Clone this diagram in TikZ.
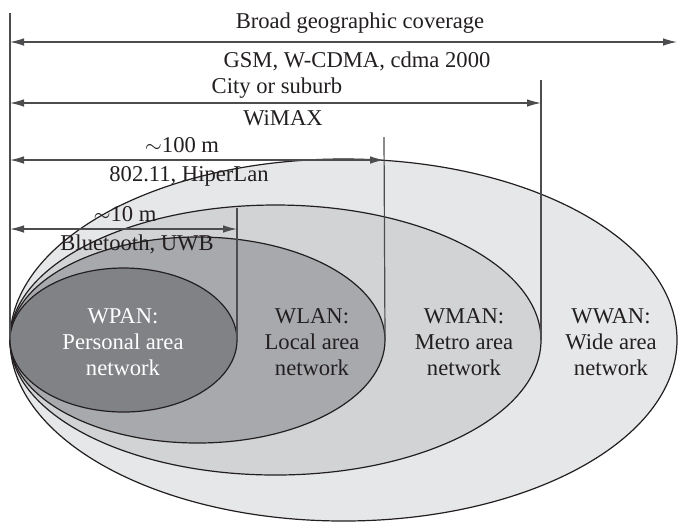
\documentclass[tikz,border=0pt]{standalone}
\usepackage{fontspec}
\setmainfont{Liberation Serif}
\usetikzlibrary{arrows.meta,shapes.geometric,positioning}
\definecolor{PanFill}{HTML}{808285}
\definecolor{LanFill}{HTML}{A7A9AC}
\definecolor{ManFill}{HTML}{D1D3D4}
\definecolor{WanFill}{HTML}{E6E7E8}
\definecolor{RangeInk}{HTML}{231F20}
\definecolor{RangeGuide}{HTML}{4D4D4F}

\begin{document}
\begin{tikzpicture}[
  x=0.5pt,y=-0.5pt,
  area/.style={ellipse,draw=RangeInk,line width=0.6pt,inner sep=0pt,outer sep=0pt},
  guide/.style={draw=RangeGuide,line width=0.6pt},
  span/.style={draw=RangeGuide,line width=0.6pt,
    {Latex[length=7pt,width=3.8pt]}-{Latex[length=7pt,width=3.8pt]}},
  note/.style={font=\fontsize{11.3}{13}\selectfont,text=RangeInk,inner sep=1pt},
  netlabel/.style={font=\fontsize{11.3}{13}\selectfont,align=center,text=RangeInk}
]
  \useasboundingbox (0,0) rectangle (678,521);

  % Nested coverage areas; they all touch at the left edge.
  \node[area,fill=WanFill,minimum width=333.5pt,minimum height=181pt] (wwan) at (343.5,340) {};
  \node[area,fill=ManFill,minimum width=265.5pt,minimum height=135pt] (wman) at (275.5,340) {};
  \node[area,fill=LanFill,minimum width=187.5pt,minimum height=103pt] (wlan) at (197.5,340) {};
  \node[area,fill=PanFill,minimum width=113.5pt,minimum height=72pt] (wpan) at (123.5,340) {};

  \node[netlabel,text=white] (pan label) at (123,342) {WPAN:\\Personal area\\network};
  \node[netlabel] (lan label) at (312,342) {WLAN:\\Local area\\network};
  \node[netlabel] (man label) at (464,342) {WMAN:\\Metro area\\network};
  \node[netlabel] (wan label) at (611,342) {WWAN:\\Wide area\\network};

  % Range markers.
  \coordinate (edge top) at (10,13);
  \coordinate (man top) at (541,80);
  \coordinate (lan top) at (384,137);
  \coordinate (pan top) at (237,208);
  \draw[guide] (wwan.west) -- (edge top);
  \draw[guide] (wman.east) -- (man top);
  \draw[guide] (wlan.east) -- (lan top);
  \draw[guide] (wpan.east) -- (pan top);

  \coordinate (wan from) at (10,42);
  \coordinate (wan to) at (677,42);
  \coordinate (man from) at (10,103);
  \coordinate (man to) at (541,103);
  \coordinate (lan from) at (10,160);
  \coordinate (lan to) at (384,160);
  \coordinate (pan from) at (10,229);
  \coordinate (pan to) at (237,229);
  \draw[span] (wan from) -- (wan to);
  \draw[span] (man from) -- (man to);
  \draw[span] (lan from) -- (lan to);
  \draw[span] (pan from) -- (pan to);

  % Range and technology texts.
  \node[note] (wan range) at (360,23) {Broad geographic coverage};
  \node[note] (wan tech) at (357,61) {GSM, W-CDMA, cdma 2000};
  \node[note] (man range) at (277,88) {City or suburb};
  \node[note] (man tech) at (283,118) {WiMAX};
  \node[note] (lan range) at (182,145) {$\sim$100 m};
  \node[note] (lan tech) at (189,176) {802.11, HiperLan};
  \node[note] (pan range) at (125,214) {$\sim$10 m};
  \node[note] (pan tech) at (137,244) {Bluetooth, UWB};
\end{tikzpicture}
\end{document}
